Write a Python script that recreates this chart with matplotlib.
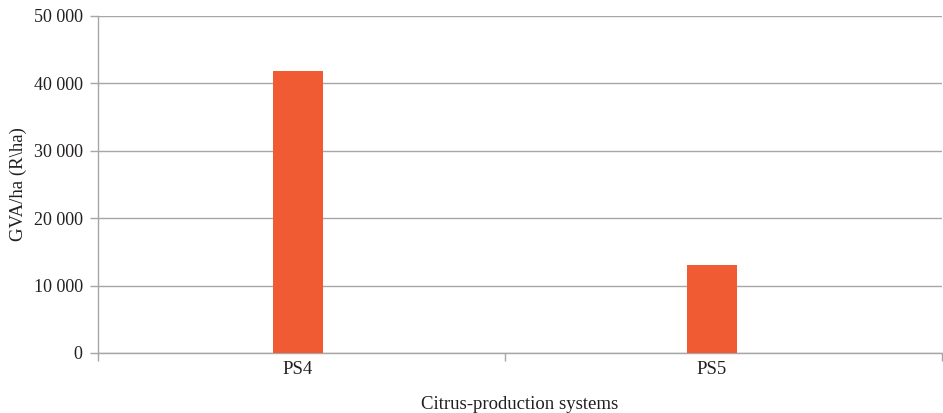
import matplotlib
matplotlib.use("Agg")
import matplotlib.pyplot as plt
from matplotlib.ticker import FuncFormatter

# data
systems = ["PS4", "PS5"]
gva_per_ha = [41900, 13000]
y_ticks = [0, 10000, 20000, 30000, 40000, 50000]

plt.rcParams["font.family"] = ["Liberation Serif", "DejaVu Serif"]
text_col = "#231f20"
grid_col = "#a6a6a6"

fig = plt.figure(figsize=(9.43, 4.13), dpi=100)
ax = fig.add_axes([0.1039, 0.1453, 0.8951, 0.816])

pos = list(range(len(systems)))
ax.bar(pos, gva_per_ha, width=0.121, color="#f05b33", zorder=3)

ax.set_xlim(-0.483, 1.556)
ax.set_ylim(0, 50000)
ax.set_yticks(y_ticks)
ax.yaxis.set_major_formatter(FuncFormatter(lambda v, p: f"{int(v):,}".replace(",", " ")))
ax.grid(axis="y", color=grid_col, linewidth=1.0, zorder=0)

# category labels sit between tick marks, like the original spreadsheet chart
ax.set_xticks([-0.483, 0.5, 1.556])
ax.set_xticklabels([])
ax.set_xticks(pos, minor=True)
ax.set_xticklabels(systems, minor=True)
ax.tick_params(axis="x", which="major", length=6, color=grid_col, width=1.0)
ax.tick_params(axis="x", which="minor", length=0, pad=6, labelsize=13.5, labelcolor=text_col)
ax.tick_params(axis="y", length=6, color=grid_col, width=1.0, labelsize=13, labelcolor=text_col, pad=5)

for s in ["top", "right"]:
    ax.spines[s].set_visible(False)
for s in ["left", "bottom"]:
    ax.spines[s].set_color(grid_col)
    ax.spines[s].set_linewidth(1.0)

ax.set_xlabel("Citrus-production systems", fontsize=13.5, color=text_col, labelpad=13)
ax.set_ylabel("GVA/ha (R\\ha)", fontsize=13.5, color=text_col, labelpad=5)

fig.savefig("out.png", dpi=100)
